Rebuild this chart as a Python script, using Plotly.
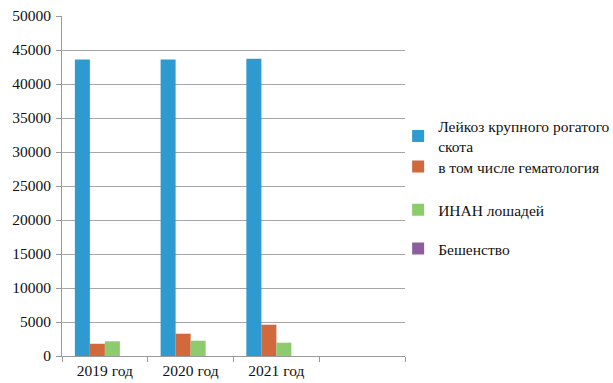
import plotly.graph_objects as go

categories = ["2019 год", "2020 год", "2021 год", " "]
series_names = ["Лейкоз крупного рогатого<br>скота", "в том числе гематология", "ИНАН лошадей", "Бешенство"]
leukosis = [43600, 43600, 43700, None]
hematology = [1800, 3280, 4600, None]
inan = [2160, 2250, 1960, None]
rabies = [0, 0, 0, None]
colors = ["#2E9AD0", "#D2693C", "#8CCB6E", "#8E5FA0"]
y_ticks = list(range(0, 50001, 5000))
y_tick_labels = [str(v) for v in y_ticks]

FONT = "Liberation Serif"
legend_ids = ["legend", "legend2", "legend3", "legend4"]
legend_y = [0.646, 0.556, 0.429, 0.315]

fig = go.Figure()
for name, vals, col, lg in zip(series_names, [leukosis, hematology, inan, rabies], colors, legend_ids):
    fig.add_trace(go.Bar(x=categories, y=vals, name=name, marker_color=col,
                         marker_line_width=0, legend=lg))

legend_common = dict(x=0.98, xanchor="left", yanchor="middle", valign="middle",
                     font=dict(family=FONT, size=15.5, color="#111111"), itemwidth=30,
                     bgcolor="rgba(0,0,0,0)", borderwidth=0)
leg_layout = {}
for lg, yy in zip(legend_ids, legend_y):
    leg_layout[lg] = dict(y=yy, **legend_common)

fig.update_layout(
    width=613, height=383,
    margin=dict(l=62, r=208, t=16, b=27, autoexpand=False),
    paper_bgcolor="white", plot_bgcolor="white",
    barmode="group", bargap=0.3, bargroupgap=0,
    font=dict(family=FONT, size=15.5, color="#111111"),
    showlegend=True,
    xaxis=dict(type="category", categoryorder="array", categoryarray=categories,
               range=[-0.5, 3.5], showline=True, linecolor="#9a9a9a", linewidth=1,
               ticks="outside", tickson="boundaries", ticklen=5, tickcolor="#9a9a9a",
               showgrid=False, tickfont=dict(family=FONT, size=15.5, color="#111111")),
    yaxis=dict(range=[0, 50000], tickvals=y_ticks, ticktext=y_tick_labels,
               showline=True, linecolor="#9a9a9a", linewidth=1,
               ticks="outside", ticklen=5, tickcolor="#9a9a9a",
               showgrid=True, gridcolor="#a6a6a6", gridwidth=1,
               zeroline=False, tickfont=dict(family=FONT, size=15.5, color="#111111"),
               ticklabelstandoff=2),
    **leg_layout,
)

fig.write_html("out.html")
